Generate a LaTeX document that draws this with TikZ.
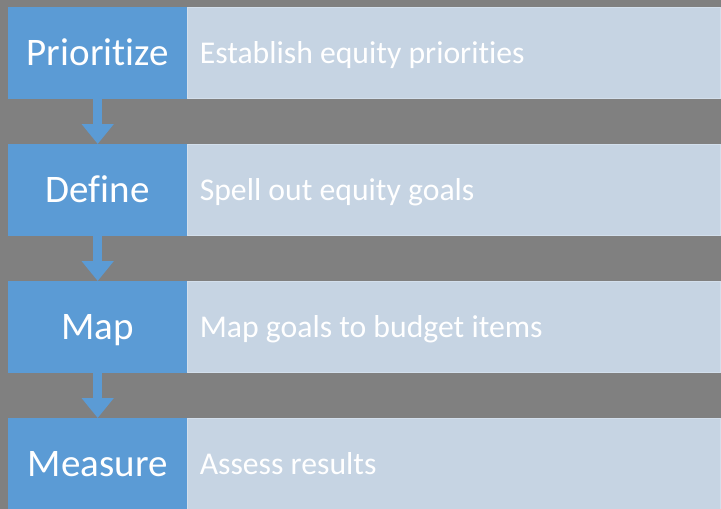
\documentclass[tikz,border=0pt]{standalone}
\usepackage{fontspec}
\setmainfont{Carlito}[Ligatures={NoCommon}]
\usetikzlibrary{arrows.meta}
\definecolor{bgGray}{HTML}{808080}
\definecolor{stepBlue}{HTML}{5B9BD5}
\definecolor{descFill}{HTML}{C6D4E3}
\definecolor{descLine}{HTML}{D3DFEC}
\tikzset{
  stepbox/.style={fill=stepBlue, anchor=north west, minimum width=179pt, minimum height=92pt,
    inner sep=0pt, text=white, font=\fontsize{39}{39}\selectfont, text height=25pt, text depth=0pt},
  descbox/.style={fill=descFill, draw=descLine, line width=1.2pt, anchor=north west,
    minimum width=533pt, minimum height=91pt, inner sep=0pt, outer sep=0pt},
  desctext/.style={anchor=west, text=white, font=\fontsize{31.7}{32}\selectfont, inner sep=0pt,
    text height=20.5pt, text depth=0pt},
  flowarrow/.style={draw=stepBlue, line width=9.5pt, -{Triangle[width=31pt,length=20pt]}, shorten <=-0.5pt}
}
\begin{document}
\begin{tikzpicture}[x=1pt,y=-1pt]
\useasboundingbox (0,0) rectangle (721,509);
\fill[bgGray] (0,0) rectangle (721,509);
% description boxes
\node[descbox] (d1) at (187.6,7.6) {};
\node[descbox] (d2) at (187.6,144.6) {};
\node[descbox] (d3) at (187.6,281.6) {};
\node[descbox] (d4) at (187.6,418.6) {};
% step boxes
\node[stepbox] (p1) at (8,7) {Prioritize};
\node[stepbox] (p2) at (8,144) {Define};
\node[stepbox] (p3) at (8,281) {Map};
\node[stepbox] (p4) at (8,418) {Measure};
% texts
\node[desctext] (t1) at ([xshift=12pt]d1.west) {Establish equity priorities};
\node[desctext] (t2) at ([xshift=12pt]d2.west) {Spell out equity goals};
\node[desctext] (t3) at ([xshift=12pt]d3.west) {Map goals to budget items};
\node[desctext] (t4) at ([xshift=12pt]d4.west) {Assess results};
% arrows
\draw[flowarrow] (p1.south) -- (p2.north);
\draw[flowarrow] (p2.south) -- (p3.north);
\draw[flowarrow] (p3.south) -- (p4.north);
\end{tikzpicture}
\end{document}
